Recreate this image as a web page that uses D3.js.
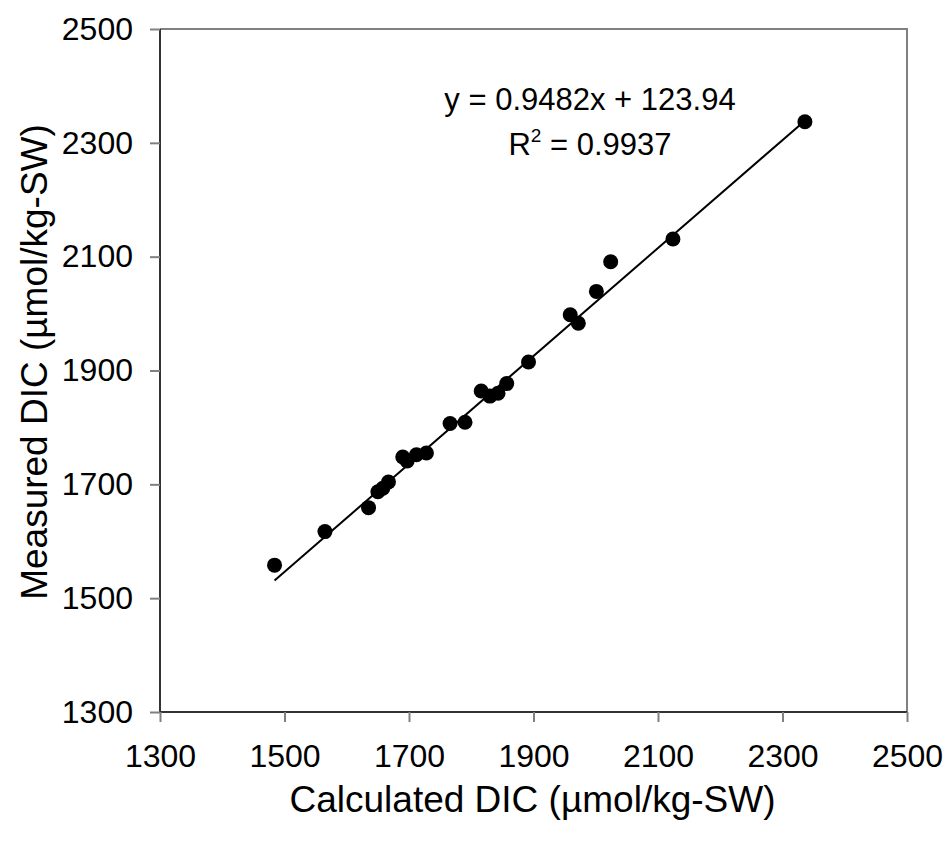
<!DOCTYPE html>
<html>
<head>
<meta charset="utf-8">
<script src="https://d3js.org/d3.v7.min.js"></script>
<style>
  body { margin: 0; background: #fff; }
  text { font-family: Arial, "Liberation Sans", sans-serif; fill: #000; }
</style>
</head>
<body>
<script>
// calculated vs measured DIC (umol/kg-SW)
var calcDIC = [1484, 1565, 1635, 1650, 1658, 1667, 1690, 1697, 1712, 1728, 1766, 1790,
               1816, 1830, 1843, 1857, 1892, 1959, 1972, 2001, 2024, 2124, 2336];
var measDIC = [1558, 1617, 1659, 1687, 1693, 1704, 1748, 1741, 1752, 1755, 1807, 1809,
               1864, 1855, 1860, 1877, 1915, 1998, 1983, 2039, 2091, 2131, 2337];
var ticks = [1300, 1500, 1700, 1900, 2100, 2300, 2500];
var slope = 0.9482, intercept = 123.94, r2 = 0.9937;

var W = 950, H = 842;
var margin = {top: 29, right: 43, bottom: 130, left: 160};
var width = W - margin.left - margin.right,
    height = H - margin.top - margin.bottom;

var svg = d3.select("body").append("svg")
  .attr("width", W).attr("height", H);
var g = svg.append("g")
  .attr("transform", "translate(" + margin.left + "," + margin.top + ")");

var x = d3.scaleLinear().domain([1300, 2500]).range([0, width]);
var y = d3.scaleLinear().domain([1300, 2500]).range([height, 0]);

// top and right frame
g.append("path")
  .attr("d", "M0,0H" + width + "V" + height)
  .attr("fill", "none").attr("stroke", "#808080").attr("stroke-width", 2);

var xAxis = g.append("g")
  .attr("transform", "translate(0," + height + ")")
  .call(d3.axisBottom(x).tickValues(ticks).tickFormat(d3.format("d")).tickSize(10).tickPadding(22));
var yAxis = g.append("g")
  .call(d3.axisLeft(y).tickValues(ticks).tickFormat(d3.format("d")).tickSize(10).tickPadding(17));

[xAxis, yAxis].forEach(function(a) {
  a.select(".domain").attr("stroke", "#333").attr("stroke-width", 2);
  a.selectAll(".tick line").attr("stroke", "#808080").attr("stroke-width", 2);
  a.selectAll(".tick text").style("font-size", "32px").attr("fill", "#000")
    .style("font-family", "Arial, 'Liberation Sans', sans-serif");
});
xAxis.select(".domain").attr("d", "M0,0H" + width);
yAxis.select(".domain").attr("d", "M0,0V" + height);

// trend line
var x0 = d3.min(calcDIC), x1 = d3.max(calcDIC);
g.append("line")
  .attr("x1", x(x0)).attr("y1", y(slope * x0 + intercept))
  .attr("x2", x(x1)).attr("y2", y(slope * x1 + intercept))
  .attr("stroke", "#000").attr("stroke-width", 2);

// points
g.selectAll("circle.pt")
  .data(d3.range(calcDIC.length))
  .enter().append("circle")
  .attr("class", "pt")
  .attr("cx", function(i) { return x(calcDIC[i]); })
  .attr("cy", function(i) { return y(measDIC[i]); })
  .attr("r", 7.5)
  .attr("fill", "#000");

// equation
svg.append("text")
  .attr("x", 590).attr("y", 110)
  .attr("text-anchor", "middle")
  .style("font-size", "31px")
  .text("y = " + slope + "x + " + intercept);
var rt = svg.append("text")
  .attr("x", 590).attr("y", 155)
  .attr("text-anchor", "middle")
  .style("font-size", "31px");
rt.append("tspan").text("R");
rt.append("tspan").attr("dy", -13).style("font-size", "19px").text("2");
rt.append("tspan").attr("dy", 13).text(" = " + r2);

// axis titles
svg.append("text")
  .attr("x", margin.left + width / 2 - 1).attr("y", 812)
  .attr("text-anchor", "middle")
  .style("font-size", "37px")
  .text("Calculated DIC (µmol/kg-SW)");
svg.append("text")
  .attr("transform", "translate(47," + 362 + ") rotate(-90)")
  .attr("text-anchor", "middle")
  .style("font-size", "37px")
  .text("Measured DIC (µmol/kg-SW)");
</script>
</body>
</html>
